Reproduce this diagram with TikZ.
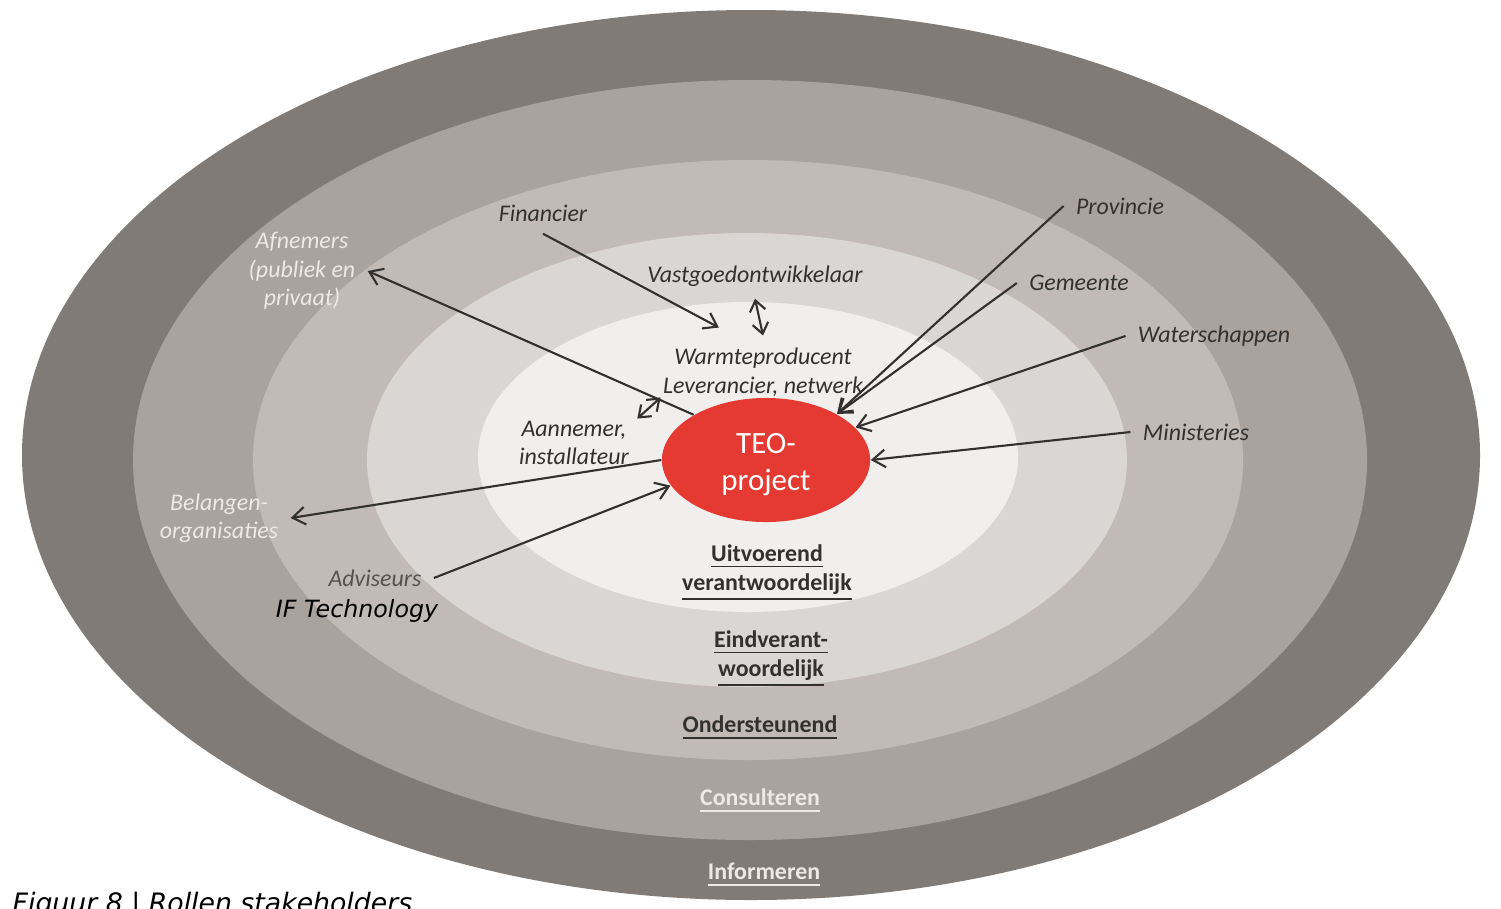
\documentclass[tikz,border=0pt]{standalone}
\usepackage{fontspec}
\setmainfont{Carlito}
\newfontfamily\sanslegende{DejaVu Sans}
\usetikzlibrary{arrows.meta,shapes.geometric}
\definecolor{anneauA}{HTML}{807B77}
\definecolor{anneauB}{HTML}{A9A29D}
\definecolor{anneauC}{HTML}{C1BAB6}
\definecolor{anneauD}{HTML}{DAD6D3}
\definecolor{anneauE}{HTML}{F1EFED}
\definecolor{rouge}{HTML}{E53A32}
\definecolor{encre}{HTML}{333130}
\definecolor{pale}{HTML}{EDE9E6}
\definecolor{grisfonce}{HTML}{57524F}
\begin{document}
\begin{tikzpicture}[x=0.01cm,y=0.01cm]
	\tikzstyle{fleche}=[-{Straight Barb[length=3.6pt,width=5pt]},line width=0.6pt,draw=encre]
	\tikzstyle{doublefleche}=[{Straight Barb[length=3pt,width=4.5pt]}-{Straight Barb[length=3pt,width=4.5pt]},line width=0.6pt,draw=encre]
	\tikzstyle{acteur}=[align=center,text=encre,font=\fontsize{6.8}{8.1}\selectfont\itshape]
	\tikzstyle{acteurpale}=[acteur,text=pale]
	\tikzstyle{niveau}=[align=center,text=encre,font=\fontsize{6.8}{8.1}\selectfont\bfseries]
	\tikzstyle{niveaupale}=[niveau,text=pale]
	\useasboundingbox (0,0) rectangle (1501,908);
	\clip (0,0) rectangle (1501,908);
	% anneaux
	\fill[anneauA] (751,453) ellipse [x radius=729,y radius=445];
	\fill[anneauB] (750,448) ellipse [x radius=617,y radius=380];
	\fill[anneauC] (748,448) ellipse [x radius=495,y radius=300];
	\fill[anneauD] (747,448) ellipse [x radius=380,y radius=227];
	\fill[anneauE] (748,451) ellipse [x radius=270,y radius=155];
	\node[ellipse,fill=rouge,minimum width=2.08cm,minimum height=1.24cm,inner sep=0pt,text=white,align=center,font=\fontsize{8.8}{10.5}\selectfont] (teo) at (766,448) {\rule{0pt}{8.5pt}TEO-\\project};
	% acteurs
	\node[acteur] (fin) at (543,695) {Financier};
	\node[acteurpale] (afnemers) at (302,637) {Afnemers\\(publiek en\\privaat)};
	\node[acteur] (vastgoed) at (755,632) {Vastgoedontwikkelaar};
	\node[acteur] (warmte) at (763,536) {Warmteproducent\\Leverancier, netwerk};
	\node[acteur] (aannemer) at (574,465) {Aannemer,\\installateur};
	\node[acteur] (provincie) at (1120,702) {Provincie};
	\node[acteur] (gemeente) at (1079,625) {Gemeente};
	\node[acteur] (waterschappen) at (1214,572) {Waterschappen};
	\node[acteur] (ministeries) at (1196,476) {Ministeries};
	\node[acteurpale] (belangen) at (219,390) {Belangen-\\organisaties};
	\node[acteur,text=grisfonce] (adviseurs) at (375,330) {Adviseurs};
	\node[font=\fontsize{6.75}{8}\selectfont\sanslegende\itshape] (iftech) at (357,297) {IF Technology};
	% niveaux
	\node[niveau] (uitvoerend) at (767,335) {\underline{Uitvoerend}\\\underline{verantwoordelijk}};
	\node[niveau] (eind) at (771,249) {\underline{Eindverant-}\\\underline{woordelijk}};
	\node[niveau] (onder) at (760,180) {\underline{Ondersteunend}};
	\node[niveaupale] (consult) at (760,107) {\underline{Consulteren}};
	\node[niveaupale] (inform) at (764,33) {\underline{Informeren}};
	\node[anchor=base west,inner sep=0pt,text=black,font=\fontsize{7.6}{9}\selectfont\sanslegende\itshape] (legende) at (12,-4) {Figuur 8 | Rollen stakeholders};
	% relations
	\draw[fleche] (fin.south) -- ([shift={(8,8)}]warmte.145);
	\draw[doublefleche] (vastgoed.south) -- (warmte.north);
	\draw[fleche] (teo.148) -- (afnemers.east);
	\draw[doublefleche] ([shift={(-4,-10)}]aannemer.north east) -- ([shift={(10,11)}]warmte.south west);
	\draw[fleche] (teo.west) -- (belangen.east);
	\draw[fleche] (adviseurs.east) -- (teo.195);
	\draw[fleche] (provincie.west) -- (teo.33);
	\draw[fleche] (gemeente.west) -- (teo.33);
	\draw[fleche] (waterschappen.west) -- (teo.20);
	\draw[fleche] (ministeries.west) -- (teo.east);
\end{tikzpicture}
\end{document}
